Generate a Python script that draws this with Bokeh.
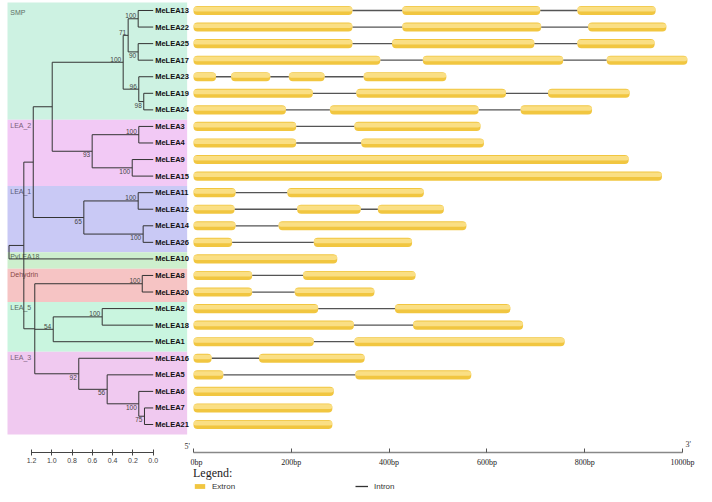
from collections import defaultdict
from bokeh.plotting import figure
from bokeh.models import (Range1d, LinearAxis, FixedTicker, PrintfTickFormatter,
                          Legend, LegendItem)
from bokeh.layouts import row, column
from bokeh.embed import file_html
from bokeh.resources import INLINE
from bokeh.core.properties import value

# ---------------- data ----------------
genes = ["MeLEA13", "MeLEA22", "MeLEA25", "MeLEA17", "MeLEA23", "MeLEA19", "MeLEA24",
         "MeLEA3", "MeLEA4", "MeLEA9", "MeLEA15", "MeLEA11", "MeLEA12", "MeLEA14",
         "MeLEA26", "MeLEA10", "MeLEA8", "MeLEA20", "MeLEA2", "MeLEA18", "MeLEA1",
         "MeLEA16", "MeLEA5", "MeLEA6", "MeLEA7", "MeLEA21"]

# exons (bp)
exon_gene = ["MeLEA13"] * 3 + ["MeLEA22"] * 3 + ["MeLEA25"] * 3 + ["MeLEA17"] * 3 + \
            ["MeLEA23"] * 4 + ["MeLEA19"] * 3 + ["MeLEA24"] * 3 + ["MeLEA3"] * 2 + \
            ["MeLEA4"] * 2 + ["MeLEA9"] + ["MeLEA15"] + ["MeLEA11"] * 2 + ["MeLEA12"] * 3 + \
            ["MeLEA14"] * 2 + ["MeLEA26"] * 2 + ["MeLEA10"] + ["MeLEA8"] * 2 + ["MeLEA20"] * 2 + \
            ["MeLEA2"] * 2 + ["MeLEA18"] * 2 + ["MeLEA1"] * 2 + ["MeLEA16"] * 2 + ["MeLEA5"] * 2 + \
            ["MeLEA6"] + ["MeLEA7"] + ["MeLEA21"]
exon_start = [0, 427, 785, 0, 427, 807, 0, 406, 785, 0, 469, 845,
              0, 77, 195, 348, 0, 333, 725, 0, 279, 669, 0, 329, 0, 343,
              0, 0, 0, 192, 0, 212, 377, 0, 174, 0, 246, 0, 0, 224, 0, 207,
              0, 412, 0, 449, 0, 329, 0, 134, 0, 331, 0, 0, 0]
exon_end = [325, 709, 945, 325, 711, 967, 325, 697, 943, 382, 756, 1010,
            46, 157, 268, 517, 244, 639, 892, 189, 583, 815, 210, 587, 210, 594,
            890, 958, 86, 471, 84, 342, 512, 86, 558, 79, 447, 294, 120, 454, 120, 370,
            255, 648, 328, 674, 246, 759, 37, 350, 61, 568, 287, 284, 284]

# tree: internal nodes
node_name = ["root", "G", "E", "D", "SMP", "n71", "n13_22", "n25_17", "n96", "n19_24",
             "LEA2", "n3_4", "n9_15", "LEA1", "n11_12", "n14_26", "F", "DEH", "LEA5",
             "n2_18", "LEA3", "n56", "n6", "n7_21"]
node_parent = [None, "root", "G", "E", "D", "SMP", "n71", "n71", "SMP", "n96",
               "D", "LEA2", "LEA2", "E", "LEA1", "LEA1", "G", "F", "F",
               "LEA5", "F", "LEA3", "n56", "n6"]
node_depth = [1.422, 1.276, 1.183, 0.996, 0.296, 0.247, 0.148, 0.148, 0.142, 0.093,
              0.602, 0.142, 0.207, 0.684, 0.148, 0.099, 1.168, 0.108, 0.986,
              0.503, 0.734, 0.454, 0.142, 0.086]
node_support = [None, None, None, None, 100, 71, 100, 90, 96, 98,
                93, 100, 100, 65, 100, 100, None, 100, 54,
                100, 92, 56, 100, 75]
tip_parent = ["n13_22", "n13_22", "n25_17", "n25_17", "n96", "n19_24", "n19_24",
              "n3_4", "n3_4", "n9_15", "n9_15", "n11_12", "n11_12", "n14_26",
              "n14_26", "root", "DEH", "DEH", "n2_18", "n2_18", "LEA5",
              "LEA3", "n56", "n6", "n7_21", "n7_21"]

# subfamily bands
group_name = ["SMP", "LEA_2", "LEA_1", "PvLEA18", "Dehydrin", "LEA_5", "LEA_3"]
group_first = ["MeLEA13", "MeLEA3", "MeLEA11", "MeLEA10", "MeLEA8", "MeLEA2", "MeLEA16"]
group_last = ["MeLEA24", "MeLEA15", "MeLEA26", "MeLEA10", "MeLEA20", "MeLEA1", "MeLEA21"]

scale_ticks = [0.0, 0.2, 0.4, 0.6, 0.8, 1.0, 1.2]
bp_ticks = [0, 200, 400, 600, 800, 1000]
legend_labels = ["Extron", "Intron"]

# ---------------- styles ----------------
group_fill = ["#CDF2E2", "#F2C9F5", "#C9C9F5", "#CDEFCD", "#F6C4C4", "#C9F5DF", "#F0C9F0"]
group_text = ["#5d6f66", "#7a5f7a", "#5a5a7a", "#556b55", "#8a4848", "#556b5f", "#7a5f7a"]
support_side = ["", "", "", "", "above", "above", "above", "below", "above", "below",
                "below", "above", "below", "below", "above", "below", "", "above", "above",
                "above", "below", "below", "below", "below"]
SANS = "Liberation Sans"
SERIF = "Liberation Serif"
EXON = "#F1C640"
EXON_HI = "#FBE391"
BR = "#333333"

# ---------------- tree geometry ----------------
row_of = {g: i for i, g in enumerate(genes)}
depth = dict(zip(node_name, node_depth))
for g in genes:
    depth[g] = 0.0
parent = dict(zip(node_name, node_parent))
parent.update(dict(zip(genes, tip_parent)))
children = defaultdict(list)
for k in node_name + genes:
    if parent[k] is not None:
        children[parent[k]].append(k)
ypos = dict(row_of)


def gety(n):
    if n in ypos:
        return ypos[n]
    ys = [gety(c) for c in children[n]]
    ypos[n] = (min(ys) + max(ys)) / 2.0
    return ypos[n]


gety("root")

hx0, hx1, hy = [], [], []
for n in node_name + genes:
    if parent[n] is not None:
        hx0.append(depth[parent[n]]); hx1.append(depth[n]); hy.append(ypos[n])
vx, vy0, vy1 = [], [], []
for n in node_name:
    ys = [ypos[c] for c in children[n]]
    vx.append(depth[n]); vy0.append(min(ys)); vy1.append(max(ys))

FRAME_H = 450
YR = (26.69, -0.483)

p1 = figure(frame_width=183, frame_height=FRAME_H, x_range=Range1d(1.437, -0.368),
            y_range=Range1d(*YR), x_axis_type=None, y_axis_type=None,
            toolbar_location=None, output_backend="svg", min_border=0)
p1.outline_line_color = None

# bands
band_top = [row_of[f] - 0.4 for f in group_first]
band_top[0] = -1.0
band_bot = [row_of[l] + 0.6 for l in group_last]
p1.quad(left=1.5, right=-0.335, top=band_top, bottom=band_bot, fill_color=group_fill,
        line_color=None)
p1.text(x=1.41, y=[row_of[f] - 0.4 for f in group_first], text=group_name,
        text_color=group_text, text_font=value(SANS), text_font_size="7px",
        text_baseline="top", y_offset=[5, 2, 2, 1, 2, 2, 2])

p1.segment(x0=hx0, x1=hx1, y0=hy, y1=hy, line_color=BR, line_width=1)
p1.segment(x0=vx, x1=vx, y0=vy0, y1=vy1, line_color=BR, line_width=1)

for side, base, off in (("above", "bottom", -0.5), ("below", "top", 1.0)):
    idx = [i for i, s in enumerate(support_side) if s == side]
    p1.text(x=[depth[node_name[i]] for i in idx], y=[ypos[node_name[i]] for i in idx],
            text=[str(node_support[i]) for i in idx], text_align="right",
            text_baseline=base, x_offset=-2, y_offset=off, text_font=value(SANS),
            text_font_size="6.5px", text_color="#444444")

p1.text(x=0.0, y=list(range(len(genes))), text=genes, x_offset=2, text_baseline="middle",
        text_font=value(SANS), text_font_style="bold", text_font_size="7.5px",
        text_color="#111111")

# 5' marker of the gene ruler (sits left of the ruler start)
p1.text(x=-0.31, y=YR[0], text=["5'"], y_offset=-2, text_baseline="bottom",
        text_font=value(SERIF), text_font_size="8px", text_color="#333333")

ax1 = LinearAxis(bounds=(0, 1.2), ticker=FixedTicker(ticks=scale_ticks),
                 formatter=PrintfTickFormatter(format="%.1f"))
ax1.major_tick_in = 3
ax1.major_tick_out = 3
ax1.minor_tick_line_color = None
ax1.axis_line_color = "#444444"
ax1.major_tick_line_color = "#444444"
ax1.major_label_text_font = SANS
ax1.major_label_text_font_size = "7px"
ax1.major_label_text_color = "#444444"
ax1.major_label_standoff = 2
p1.add_layout(ax1, "below")

# ---------------- gene structure ----------------
p2 = figure(frame_width=514, frame_height=FRAME_H, x_range=Range1d(-6.13, 1045),
            y_range=Range1d(*YR), x_axis_type=None, y_axis_type=None,
            toolbar_location=None, output_backend="svg", min_border=0)
p2.outline_line_color = None

ix0, ix1, iy = [], [], []
for g in genes:
    ex = sorted((s, e) for gg, s, e in zip(exon_gene, exon_start, exon_end) if gg == g)
    for (s0, e0), (s1, e1) in zip(ex[:-1], ex[1:]):
        ix0.append(e0); ix1.append(s1); iy.append(row_of[g])
p2.segment(x0=ix0, x1=ix1, y0=iy, y1=iy, line_color="#555555", line_width=1.3)

ey = [row_of[g] for g in exon_gene]
p2.hbar(y=ey, left=exon_start, right=exon_end, height=0.55, fill_color=EXON,
        line_color=None, border_radius=4)
p2.hbar(y=[v - 0.08 for v in ey], left=exon_start, right=exon_end, height=0.28,
        fill_color=EXON_HI, fill_alpha=0.85, line_color=None, border_radius=3)

p2.text(x=[1000], y=YR[0], text=["3'"], x_offset=3, y_offset=-4,
        text_baseline="bottom", text_font=value(SERIF), text_font_size="8px",
        text_color="#333333")

ax2 = LinearAxis(bounds=(0, 1000), ticker=FixedTicker(ticks=bp_ticks),
                 formatter=PrintfTickFormatter(format="%dbp"))
ax2.major_tick_in = 4
ax2.major_tick_out = 0
ax2.minor_tick_line_color = None
ax2.axis_line_color = "#888888"
ax2.axis_line_width = 1.5
ax2.major_tick_line_color = "#555555"
ax2.major_label_text_font = SERIF
ax2.major_label_text_font_size = "8px"
ax2.major_label_text_color = "#222222"
ax2.major_label_standoff = 5
p2.add_layout(ax2, "below")

# ---------------- legend strip ----------------
p3 = figure(frame_width=514, frame_height=30, x_range=p2.x_range, y_range=Range1d(0, 1),
            x_axis_type=None, y_axis_type=None, toolbar_location=None,
            output_backend="svg", min_border=0, margin=(-6, 0, 0, 0))
p3.outline_line_color = None
p3.background_fill_color = None
p3.border_fill_color = None
# off-range points: these renderers only supply the legend glyphs
lg_ex = p3.hbar(y=[-5], left=[0], right=[10], height=0.5, fill_color=EXON,
                line_color=None)
lg_in = p3.segment(x0=[0], x1=[10], y0=[-5], y1=[-5], line_color="#333333",
                   line_width=1.3)
leg = Legend(items=[LegendItem(label=legend_labels[0], renderers=[lg_ex]),
                    LegendItem(label=legend_labels[1], renderers=[lg_in])],
             title="Legend:", orientation="horizontal", location="top_left",
             glyph_width=13, glyph_height=6, label_standoff=6, label_width=143,
             spacing=0, margin=3, padding=0, border_line_color=None,
             background_fill_alpha=0)
leg.title_text_font = SERIF
leg.title_text_font_size = "12px"
leg.title_text_font_style = "normal"
leg.title_text_color = "#222222"
leg.title_standoff = 0
leg.label_text_font = SANS
leg.label_text_font_size = "8px"
leg.label_text_color = "#333333"
leg.label_height = 10
p3.add_layout(leg)

layout = row(p1, column(p2, p3), margin=(2, 0, 0, 7))
open("out.html", "w").write(file_html(layout, INLINE))
